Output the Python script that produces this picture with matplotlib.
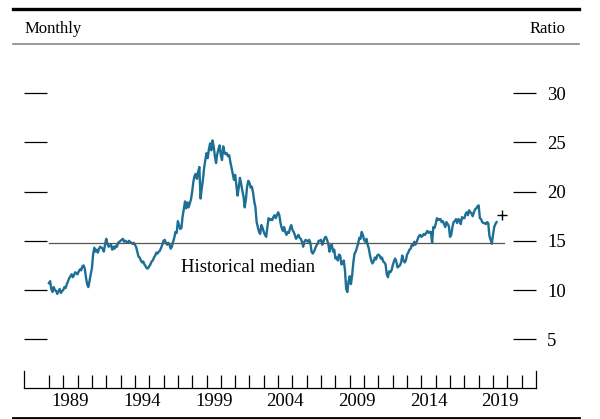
import numpy as np
import matplotlib
matplotlib.use("Agg")
import matplotlib.pyplot as plt
from matplotlib.lines import Line2D

plt.rcParams['font.family'] = ["Liberation Serif", "DejaVu Serif"]

# 月次の予想PER（1988年1月〜2019年4月）
start_year = 1988
pe_1988 = [10.7, 10.9, 10.1, 9.8, 10.3, 10.0, 9.9, 9.6, 9.9, 10.1, 9.7, 9.9]
pe_1989 = [10.0, 10.3, 10.2, 10.6, 10.9, 11.2, 11.4, 11.6, 11.3, 11.5, 11.8, 11.7]
pe_1990 = [11.6, 11.9, 12.1, 12.0, 12.4, 12.5, 12.2, 11.3, 10.6, 10.3, 10.9, 11.6]
pe_1991 = [12.2, 13.6, 14.3, 13.9, 14.1, 13.8, 14.2, 14.4, 14.3, 14.2, 13.9, 14.6]
pe_1992 = [15.2, 14.7, 14.4, 14.5, 14.6, 14.1, 14.4, 14.2, 14.5, 14.4, 14.8, 14.9]
pe_1993 = [15.0, 15.1, 15.2, 14.9, 15.0, 14.9, 14.8, 15.0, 14.9, 14.8, 14.7, 14.8]
pe_1994 = [14.6, 14.4, 13.9, 13.4, 13.3, 13.0, 12.8, 12.9, 12.6, 12.4, 12.2, 12.2]
pe_1995 = [12.4, 12.6, 12.9, 13.0, 13.3, 13.5, 13.8, 13.7, 13.9, 14.0, 14.3, 14.6]
pe_1996 = [15.0, 15.1, 14.8, 14.6, 14.8, 14.6, 14.2, 14.4, 14.9, 15.3, 15.9, 15.8]
pe_1997 = [17.0, 16.6, 16.2, 16.3, 17.5, 18.2, 19.0, 18.3, 18.9, 18.4, 18.8, 19.2]
pe_1998 = [20.0, 21.0, 21.6, 21.8, 21.3, 22.0, 22.5, 19.3, 20.3, 21.2, 22.4, 23.2]
pe_1999 = [23.9, 23.4, 24.3, 24.9, 24.2, 25.2, 24.6, 23.6, 22.9, 23.8, 24.3, 24.7]
pe_2000 = [23.7, 23.2, 24.6, 24.0, 23.8, 23.9, 23.6, 23.7, 23.0, 22.4, 21.8, 21.2]
pe_2001 = [21.7, 20.6, 19.6, 20.4, 21.4, 20.8, 20.1, 19.5, 18.4, 19.2, 20.5, 21.1]
pe_2002 = [20.9, 20.4, 20.5, 19.9, 19.0, 18.4, 16.9, 16.4, 15.9, 15.7, 16.6, 16.3]
pe_2003 = [15.9, 15.6, 15.4, 16.4, 17.3, 17.1, 17.2, 17.1, 17.4, 17.6, 17.3, 17.6]
pe_2004 = [17.9, 17.6, 16.8, 16.3, 16.0, 16.4, 15.9, 15.6, 15.9, 15.8, 16.3, 16.6]
pe_2005 = [16.1, 15.9, 15.6, 15.2, 15.4, 15.6, 15.3, 15.2, 14.9, 14.4, 14.9, 15.1]
pe_2006 = [15.0, 14.9, 15.1, 14.8, 13.9, 13.7, 13.9, 14.2, 14.5, 14.7, 15.0, 15.0]
pe_2007 = [15.1, 14.6, 14.9, 15.3, 15.4, 15.1, 14.7, 13.9, 14.5, 14.6, 13.9, 14.1]
pe_2008 = [13.2, 13.3, 13.0, 13.6, 13.5, 12.6, 12.7, 13.0, 12.0, 10.1, 9.8, 10.9]
pe_2009 = [11.4, 10.6, 11.5, 12.8, 13.7, 13.9, 14.3, 14.7, 15.3, 15.2, 15.9, 15.6]
pe_2010 = [15.1, 14.9, 15.2, 14.6, 14.2, 13.5, 13.0, 12.7, 12.9, 13.3, 13.1, 13.5]
pe_2011 = [13.6, 13.5, 13.2, 13.3, 12.9, 12.8, 12.6, 11.6, 11.3, 11.9, 11.8, 12.0]
pe_2012 = [12.5, 12.9, 13.2, 12.9, 12.3, 12.4, 12.5, 12.8, 13.5, 13.0, 12.8, 13.0]
pe_2013 = [13.6, 13.8, 14.1, 14.2, 14.6, 14.5, 14.9, 14.6, 14.9, 15.2, 15.5, 15.6]
pe_2014 = [15.4, 15.5, 15.7, 15.6, 15.8, 16.0, 15.8, 15.9, 15.9, 14.8, 16.4, 16.3]
pe_2015 = [16.7, 17.3, 17.1, 17.2, 17.2, 16.9, 17.0, 16.7, 16.4, 16.9, 16.7, 16.5]
pe_2016 = [15.4, 15.6, 16.4, 16.9, 17.0, 17.2, 16.8, 17.2, 17.1, 16.7, 17.4, 17.3]
pe_2017 = [17.3, 17.7, 17.9, 17.6, 18.1, 17.9, 17.8, 17.5, 17.9, 18.2, 18.3, 18.5]
pe_2018 = [18.6, 17.3, 17.2, 16.9, 16.8, 16.8, 16.7, 16.9, 16.8, 15.5, 15.1, 14.7]
pe_2019 = [15.6, 16.4, 16.7, 16.9]

historical_median = 14.8
median_span = [1988.0, 2019.8]
latest_x = 2019.65  # 最新値（+印）
latest_pe = 17.6

year_ticks = list(range(1988, 2022))
label_years = [1989, 1994, 1999, 2004, 2009, 2014, 2019]
y_ticks = [5, 10, 15, 20, 25, 30]

pe = (pe_1988 + pe_1989 + pe_1990 + pe_1991 + pe_1992 + pe_1993 + pe_1994 + pe_1995
      + pe_1996 + pe_1997 + pe_1998 + pe_1999 + pe_2000 + pe_2001 + pe_2002 + pe_2003
      + pe_2004 + pe_2005 + pe_2006 + pe_2007 + pe_2008 + pe_2009 + pe_2010 + pe_2011
      + pe_2012 + pe_2013 + pe_2014 + pe_2015 + pe_2016 + pe_2017 + pe_2018 + pe_2019)
t = start_year + np.arange(len(pe)) / 12.0

fig = plt.figure(figsize=(6.0, 4.19), dpi=100)
ax = fig.add_axes([0.04, 0.073, 0.8533, 0.822])

ax.plot(t, pe, color="#1d6f96", lw=1.7, solid_joinstyle="round")
ax.plot(median_span, [historical_median, historical_median], color="#555555", lw=0.9)
ax.plot([latest_x], [latest_pe], marker="+", color="black", ms=7, mew=1.0)
ax.text(1997.2, 12.3, "Historical median", fontsize=13.5, va="center", ha="left")

ax.set_xlim(1986.26, 2022.0)
ax.set_ylim(0, 35)

# 軸の体裁
ax.spines["top"].set_visible(False)
ax.spines["left"].set_bounds(0, 1.75)
ax.spines["right"].set_bounds(0, 1.75)
for s in ("left", "right", "bottom"):
    ax.spines[s].set_linewidth(0.9)

ax.set_xticks(year_ticks)
ax.set_xticklabels([])
ax.set_xticks([y + 0.5 for y in label_years], minor=True)
ax.set_xticklabels([str(y) for y in label_years], minor=True)
ax.tick_params(axis="x", which="major", direction="in", length=9.5, width=0.9)
ax.tick_params(axis="x", which="minor", length=0, pad=3.5, labelsize=13.5)

ax.set_yticks(y_ticks)
ax.tick_params(axis="y", which="major", direction="in", length=16.5, width=0.9,
               left=True, right=True, labelleft=False, labelright=True,
               pad=8, labelsize=13.5)

# 上下の罫線と見出し
fig.add_artist(Line2D([13 / 600, 579 / 600], [1 - 9.5 / 419, 1 - 9.5 / 419],
                      color="black", lw=2.4))
fig.add_artist(Line2D([13 / 600, 579 / 600], [1 - 44 / 419, 1 - 44 / 419],
                      color="#888888", lw=1.2))
fig.add_artist(Line2D([13 / 600, 579 / 600], [1 - 417.5 / 419, 1 - 417.5 / 419],
                      color="black", lw=2.0))
fig.text(25 / 600, 1 - 29 / 419, "Monthly", fontsize=12, va="center", ha="left")
fig.text(566 / 600, 1 - 29 / 419, "Ratio", fontsize=12, va="center", ha="right")

fig.savefig("out.png", dpi=100)
